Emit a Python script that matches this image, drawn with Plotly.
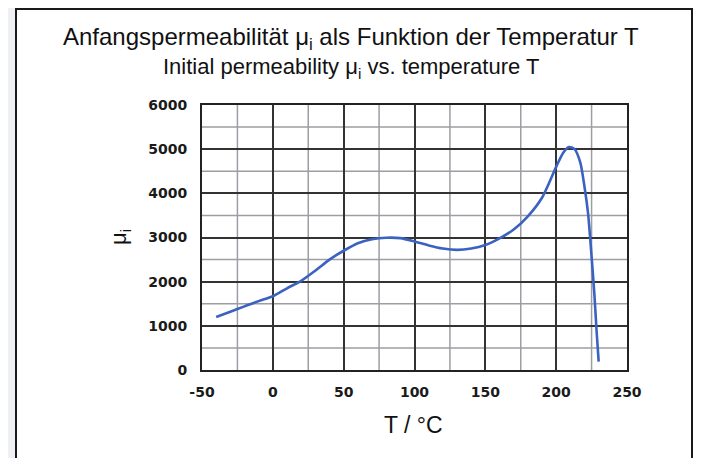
import plotly.graph_objects as go

# Data
temperature_c = [-40, -30, -20, -10, 0, 10, 20, 30, 40, 50, 60, 70, 80, 90, 100, 110,
                 120, 130, 140, 150, 160, 170, 180, 190, 200, 205, 209, 213, 217, 220,
                 222.5, 225, 227, 228.5, 230]
mu_i = [1200, 1320, 1440, 1560, 1670, 1850, 2020, 2250, 2500, 2700, 2870, 2960, 2995, 2985,
        2910, 2820, 2750, 2720, 2750, 2830, 2980, 3180, 3480, 3900, 4600, 4920, 5050, 5000,
        4700, 4150, 3550, 2570, 1700, 900, 190]

x_ticks = [-50, 0, 50, 100, 150, 200, 250]
x_tick_text = ["-50", "0", "50", "100", "150", "200", "250"]
y_ticks = [0, 1000, 2000, 3000, 4000, 5000, 6000]

title_de = "Anfangspermeabilität μ<sub>i</sub> als Funktion der Temperatur T"
title_en = "Initial permeability μ<sub>i</sub> vs. temperature T"
x_title = "T / °C"
y_title = "μ<sub>i</sub>"

OFF = 8  # page body margin
W, H = 701 - OFF, 458 - OFF
plot_left, plot_right, plot_top, plot_bottom = 202, 627, 105, 370  # page coords
L = plot_left - OFF
T = plot_top - OFF
R = W - (plot_right - OFF)
B = H - (plot_bottom - OFF)
pw, ph = plot_right - plot_left, plot_bottom - plot_top


def px(x):
    return (x - plot_left) / pw


def py(y):
    return (plot_bottom - y) / ph


fig = go.Figure()

# white framed box behind the chart
fig.add_shape(type="rect", xref="paper", yref="paper",
              x0=px(16), x1=px(692), y0=py(480), y1=py(9),
              line=dict(color="#1a1a1a", width=2), fillcolor="white", layer="below")

# minor grid lines (every 25 °C / 500)
for v in range(-25, 250, 50):
    fig.add_shape(type="line", xref="x", yref="paper", x0=v, x1=v, y0=0, y1=1,
                  line=dict(color="#9c9ea3", width=1.5), layer="below")
for v in range(500, 6000, 1000):
    fig.add_shape(type="line", xref="paper", yref="y", x0=0, x1=1, y0=v, y1=v,
                  line=dict(color="#9c9ea3", width=1.5), layer="below")

fig.add_trace(go.Scatter(x=temperature_c, y=mu_i, mode="lines",
                         line=dict(color="#3b62c0", width=2.6, shape="spline", smoothing=0.7),
                         hoverinfo="x+y", showlegend=False))

tick_font = dict(family="DejaVu Sans", size=14, color="#1a1a1a", weight="bold")

fig.update_xaxes(range=[-50, 250], tickvals=x_ticks, ticktext=x_tick_text,
                 showgrid=True, gridcolor="#333333", gridwidth=1.5,
                 showline=True, linecolor="#222222", linewidth=2, mirror=True,
                 ticks="", tickfont=tick_font, ticklabelstandoff=8, zeroline=False)
fig.update_yaxes(range=[0, 6000], tickvals=y_ticks,
                 showgrid=True, gridcolor="#333333", gridwidth=1.5,
                 showline=True, linecolor="#222222", linewidth=2, mirror=True,
                 ticks="", tickfont=tick_font, ticklabelstandoff=10, zeroline=False)

ann_font = dict(family="Liberation Sans", color="#111111")
common = dict(xref="paper", yref="paper", showarrow=False, xanchor="center", yanchor="middle")
fig.add_annotation(text=title_de, x=px(351), y=py(38), font=dict(size=24, **ann_font), **common)
fig.add_annotation(text=title_en, x=px(350.5), y=py(68), font=dict(size=22, **ann_font), **common)
fig.add_annotation(text=x_title, x=px(413), y=py(425), font=dict(size=23, **ann_font), **common)
fig.add_annotation(text=y_title, x=px(120), y=py(237), textangle=-90,
                   font=dict(size=22, **ann_font), **common)

fig.update_layout(width=W, height=H, margin=dict(l=L, r=R, t=T, b=B, pad=0),
                  paper_bgcolor="#eff0f3", plot_bgcolor="white", showlegend=False)

fig.write_html("out.html")
